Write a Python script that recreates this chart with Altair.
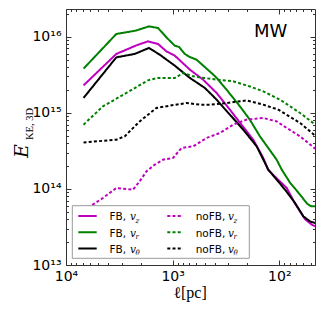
import altair as alt
import pandas as pd

# ---------------- data ----------------
series_keys = ["FB_vz", "FB_vr", "FB_vth", "noFB_vz", "noFB_vr", "noFB_vth"]
series_fb = ["FB", "FB", "FB", "noFB", "noFB", "noFB"]
series_colors = ["#bf00bf", "#008000", "#000000", "#bf00bf", "#008000", "#000000"]

l_FB_vz = [6850, 3375, 2189, 1703, 1371, 1144, 955, 690, 518, 387, 290.5, 234, 175.6, 141.4, 126.9, 85.2, 71.2, 57.4, 49.6, 46.1]
E_FB_vz = [2.29e15, 5.93e15, 7.69e15, 8.68e15, 8.02e15, 6.41e15, 5.63e15, 3.69e15, 2.72e15, 1.82e15, 1.098e15, 7.41e14, 4.43e14, 2.55e14, 1.761e14, 1.028e14, 6.39e13, 4.00e13, 3.39e13, 3.22e13]

l_FB_vr = [6850, 3375, 2222, 1667, 1371, 1129, 955, 871, 769, 690, 598, 432, 387, 312, 234, 189, 152, 106, 94.9, 79.3, 63.9, 54.9, 50.4, 46.1]
E_FB_vr = [3.80e15, 1.085e16, 1.20e16, 1.366e16, 1.30e16, 9.62e15, 7.61e15, 7.32e15, 5.93e15, 5.41e15, 4.99e15, 3.33e15, 2.87e15, 2.01e15, 1.214e15, 8.12e14, 4.90e14, 2.42e14, 1.79e14, 1.206e14, 8.39e13, 6.39e13, 5.93e13, 5.93e13]

l_FB_vth = [6850, 3375, 2271, 1667, 1322, 955, 690, 499, 387, 290.5, 218, 163, 126.9, 88.4, 71.2, 59.5, 51.5, 46.1]
E_FB_vth = [1.565e15, 5.35e15, 5.93e15, 7.11e15, 5.80e15, 4.16e15, 2.87e15, 2.12e15, 1.487e15, 9.44e14, 6.00e14, 3.62e14, 1.79e14, 9.76e13, 6.53e13, 4.35e13, 3.74e13, 3.56e13]

l_noFB_vz = [6850, 5600, 4509, 3375, 2718, 2356, 2038, 1763, 1473, 1231, 991, 827, 643, 481, 361, 270.6, 202.5, 141.4, 105.8, 85.2, 63.9, 46.1]
E_noFB_vz = [5.17e13, 6.20e13, 7.59e13, 1.028e14, 9.97e13, 9.76e13, 1.255e14, 1.70e14, 2.08e14, 2.42e14, 2.55e14, 3.45e14, 3.62e14, 4.67e14, 5.43e14, 6.98e14, 8.12e14, 8.54e14, 7.71e14, 6.31e14, 4.90e14, 3.38e14]

l_noFB_vr = [6850, 4509, 2718, 1703, 1371, 955, 798.6, 643, 387, 270.6, 189, 141.4, 98.5, 63.9, 46.1]
E_noFB_vr = [6.98e14, 1.214e15, 1.82e15, 2.67e15, 2.87e15, 2.86e15, 3.33e15, 3.01e15, 2.72e15, 2.59e15, 2.22e15, 1.91e15, 1.487e15, 9.94e14, 7.0e14]

l_noFB_vth = [6850, 3375, 2819, 2038, 1703, 1420, 1065, 742, 556, 448, 312, 202.5, 141.4, 102.2, 63.9, 46.1]
E_noFB_vth = [4.08e14, 4.43e14, 4.90e14, 7.71e14, 9.44e14, 1.156e15, 1.24e15, 1.345e15, 1.278e15, 1.278e15, 1.345e15, 1.455e15, 1.278e15, 1.098e15, 7.35e14, 5.0e14]

x_major = [1e4, 1e3, 1e2]
x_minor = [9000, 8000, 7000, 6000, 5000, 4000, 3000, 2000,
           900, 800, 700, 600, 500, 400, 300, 200, 90, 80, 70, 60, 50]
y_major = [1e13, 1e14, 1e15, 1e16]
y_minor = [k * 10 ** e for e in (13, 14, 15) for k in range(2, 10)] + [2e16]

legend_fb_text = ["FB,", "FB,", "FB,"]
legend_nofb_text = ["noFB,", "noFB,", "noFB,"]
legend_sub = ["z", "r", "θ"]

# ---------------- build table ----------------
all_l = [l_FB_vz, l_FB_vr, l_FB_vth, l_noFB_vz, l_noFB_vr, l_noFB_vth]
all_E = [E_FB_vz, E_FB_vr, E_FB_vth, E_noFB_vz, E_noFB_vr, E_noFB_vth]
rows = []
for key, fb, ls, es in zip(series_keys, series_fb, all_l, all_E):
    for i, (l, e) in enumerate(zip(ls, es)):
        rows.append({"s": key, "fb": fb, "l": l, "E": e, "i": i})
df = pd.DataFrame(rows)

W, H = 249, 256
xs = alt.Scale(type="log", domain=[46.3, 10000], reverse=True, nice=False)
ys = alt.Scale(type="log", domain=[1e13, 2.31e16], nice=False)
AX = "#333333"

x_label_expr = "datum.value >= 9999 ? '10⁴' : datum.value >= 999 ? '10³' : '10²'"
y_label_expr = ("datum.value > 5e15 ? '10¹⁶' : datum.value > 5e14 ? '10¹⁵' : "
                "datum.value > 5e13 ? '10¹⁴' : '10¹³'")

lines = alt.Chart(df).mark_line(strokeWidth=2, clip=True).encode(
    x=alt.X("l:Q", scale=xs, axis=alt.Axis(
        orient="bottom", values=x_major, labelExpr=x_label_expr, ticks=False,
        grid=False, title=None, domain=True, domainColor=AX, labelFont="DejaVu Sans",
        labelFontSize=14, labelColor="black", labelPadding=4, labelFlush=False,
        labelOverlap=False)),
    y=alt.Y("E:Q", scale=ys, axis=alt.Axis(
        orient="left", values=y_major, labelExpr=y_label_expr, ticks=False,
        grid=False, title=None, domain=True, domainColor=AX, labelFont="DejaVu Sans",
        labelFontSize=14, labelColor="black", labelPadding=5, labelFlush=False,
        labelOverlap=False)),
    color=alt.Color("s:N", scale=alt.Scale(domain=series_keys, range=series_colors), legend=None),
    strokeDash=alt.StrokeDash("fb:N", scale=alt.Scale(domain=["FB", "noFB"], range=[[1, 0], [3, 2.2]]), legend=None),
    detail="s:N",
    order="i:Q",
)


def tick_layer(xorient, yorient, xvals, yvals, size, domain):
    return alt.Chart(df).mark_line(opacity=0).encode(
        x=alt.X("l:Q", scale=xs, axis=alt.Axis(
            orient=xorient, offset=-H, values=xvals, labels=False, grid=False, title=None,
            tickSize=size, tickColor=AX, tickWidth=1, domain=domain, domainColor=AX)),
        y=alt.Y("E:Q", scale=ys, axis=alt.Axis(
            orient=yorient, offset=-W, values=yvals, labels=False, grid=False, title=None,
            tickSize=size, tickColor=AX, tickWidth=1, domain=domain, domainColor=AX)),
    )


ticks = [
    tick_layer("top", "right", x_major, y_major, 5, False),      # bottom/left inward majors
    tick_layer("top", "right", x_minor, y_minor, 2.5, False),    # bottom/left inward minors
    tick_layer("bottom", "left", x_major, y_major, 5, True),     # top/right frame + majors
    tick_layer("bottom", "left", x_minor, y_minor, 2.5, False),  # top/right minors
]


def txt(s, x, y, size, font="DejaVu Sans", style="normal", align="left", angle=0, color="black"):
    return alt.Chart(pd.DataFrame({"t": [s]})).mark_text(
        align=align, baseline="alphabetic", font=font, fontSize=size, fontStyle=style,
        angle=angle, color=color).encode(x=alt.value(x), y=alt.value(y), text="t:N")


def rule(x1, x2, y, color, dash):
    return alt.Chart(pd.DataFrame({"a": [0]})).mark_rule(
        color=color, strokeWidth=2, strokeDash=dash).encode(
        x=alt.value(x1), x2=alt.value(x2), y=alt.value(y))


# legend
legend_layers = [
    alt.Chart(pd.DataFrame({"a": [0]})).mark_rect(
        fill="white", stroke="#9a9a9a", strokeWidth=1).encode(
        x=alt.value(6.3), x2=alt.value(183.3), y=alt.value(196.7), y2=alt.value(249.3))
]
row_line = [207, 223.3, 239.6]
row_base = [211.3, 227.6, 243.9]
for r in range(3):
    c = series_colors[r]
    legend_layers.append(rule(12.3, 30.7, row_line[r], c, [1, 0]))
    legend_layers.append(rule(101.3, 117, row_line[r], c, [3, 2.2]))
    legend_layers.append(txt(legend_fb_text[r], 43.5, row_base[r], 10.5))
    legend_layers.append(txt("v", 64.0, row_base[r], 10.5, font="DejaVu Serif", style="italic"))
    legend_layers.append(txt(legend_sub[r], 69.5, row_base[r] + 2.5, 7, font="DejaVu Serif", style="italic"))
    legend_layers.append(txt(legend_nofb_text[r], 129.7, row_base[r], 10.5))
    legend_layers.append(txt("v", 162.0, row_base[r], 10.5, font="DejaVu Serif", style="italic"))
    legend_layers.append(txt(legend_sub[r], 167.5, row_base[r] + 2.5, 7, font="DejaVu Serif", style="italic"))

annot = [
    txt("MW", 188, 28, 18),
    txt("E", -38, 149, 19, font="DejaVu Serif", style="italic", angle=270),
    txt("KE, 3D", -33.5, 131, 10.5, font="Liberation Serif", angle=270),
    txt("ℓ[pc]", 124, 289, 16, font="Liberation Serif", align="center"),
]

chart = alt.layer(lines, *ticks, *legend_layers, *annot).resolve_axis(
    x="independent", y="independent"
).properties(
    width=W, height=H,
    autosize=alt.AutoSizeParams(type="none"),
    padding={"left": 58, "top": 1, "right": 9, "bottom": 50},
).configure_view(stroke=None)

chart.save("out.html", embed_options={"renderer": "svg", "actions": False})
